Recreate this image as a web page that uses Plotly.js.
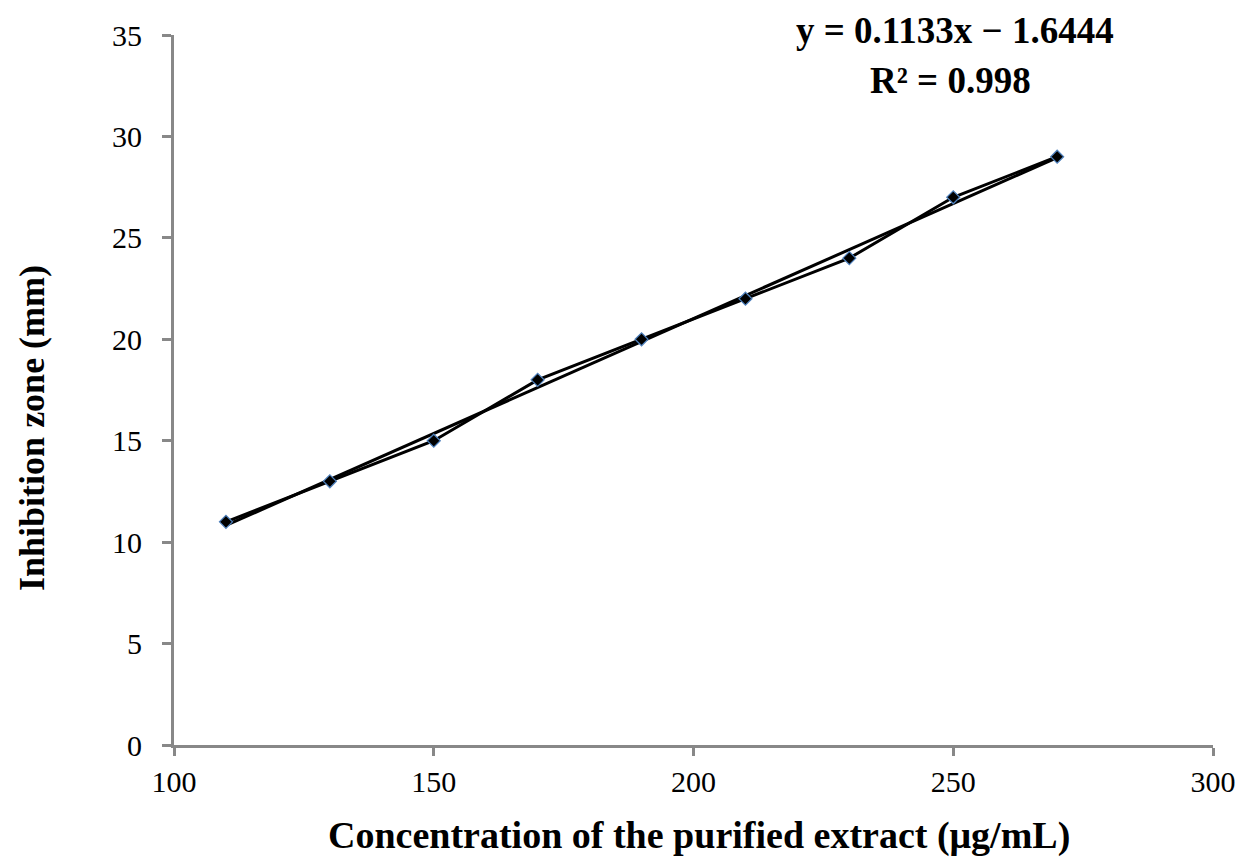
<!DOCTYPE html>
<html>
<head>
<meta charset="utf-8">
<script src="https://cdn.plot.ly/plotly-3.0.1.min.js"></script>
<style>html,body{margin:0;padding:0;background:#fff;}#chart{width:1240px;height:860px;}</style>
</head>
<body>
<div id="chart"></div>
<script>
const concentration = [110, 130, 150, 170, 190, 210, 230, 250, 270];
const inhibitionZone = [11, 13, 15, 18, 20, 22, 24, 27, 29];
const xTickValues = [100, 150, 200, 250, 300];
const yTickValues = [0, 5, 10, 15, 20, 25, 30, 35];

// linear regression (trendline)
const n = concentration.length;
const mx = concentration.reduce((a, b) => a + b, 0) / n;
const my = inhibitionZone.reduce((a, b) => a + b, 0) / n;
let sxy = 0, sxx = 0, syy = 0;
for (let i = 0; i < n; i++) {
  sxy += (concentration[i] - mx) * (inhibitionZone[i] - my);
  sxx += (concentration[i] - mx) ** 2;
  syy += (inhibitionZone[i] - my) ** 2;
}
const slope = sxy / sxx;
const intercept = my - slope * mx;
const r2 = (sxy * sxy) / (sxx * syy);
const xMin = Math.min(...concentration), xMax = Math.max(...concentration);
const trendX = [xMin, xMax];
const trendY = trendX.map(x => slope * x + intercept);
const eqText = 'y = ' + slope.toFixed(4) + 'x ' + (intercept < 0 ? '\u2212 ' : '+ ') + Math.abs(intercept).toFixed(4);
const r2Text = 'R\u00B2 = ' + r2.toFixed(3);

const serif = 'Liberation Serif';

const traces = [
  {
    x: trendX, y: trendY, mode: 'lines', type: 'scatter',
    line: {color: '#000', width: 3}, hoverinfo: 'skip', showlegend: false
  },
  {
    x: concentration, y: inhibitionZone, mode: 'lines+markers', type: 'scatter',
    line: {color: '#000', width: 3},
    marker: {symbol: 'diamond', size: 10, color: '#000', line: {color: '#4f81bd', width: 1.2}},
    showlegend: false
  }
];

const layout = {
  width: 1240, height: 860,
  margin: {l: 174, r: 27, t: 35, b: 115},
  paper_bgcolor: '#fff', plot_bgcolor: '#fff',
  font: {family: serif, color: '#000'},
  xaxis: {
    range: [100, 300], tickmode: 'array', tickvals: xTickValues, ticktext: xTickValues.map(String),
    showgrid: false, zeroline: false,
    showline: true, linecolor: '#888', linewidth: 3,
    ticks: 'outside', ticklen: 8, tickwidth: 3, tickcolor: '#888',
    tickfont: {family: serif, size: 30, color: '#000'}
  },
  yaxis: {
    range: [0, 35], tickmode: 'array', tickvals: yTickValues, ticktext: yTickValues.map(String),
    showgrid: false, zeroline: false,
    showline: true, linecolor: '#888', linewidth: 3,
    ticks: 'outside', ticklen: 9, tickwidth: 3, tickcolor: '#888',
    ticklabelstandoff: 14,
    tickfont: {family: serif, size: 30, color: '#000'}
  },
  annotations: [
    {text: '<b>Inhibition zone (mm)</b>', xref: 'paper', yref: 'paper', x: -0.1367, y: 0.4465,
     textangle: -90, showarrow: false, font: {family: serif, size: 36, color: '#000'}, xanchor: 'center', yanchor: 'middle'},
    {text: '<b>Concentration of the purified extract (\u03BCg/mL)</b>', xref: 'paper', yref: 'paper', x: 0.5053, y: -0.128,
     showarrow: false, font: {family: serif, size: 38, color: '#000'}, xanchor: 'center', yanchor: 'middle'},
    {text: '<b>' + eqText + '</b>', xref: 'paper', yref: 'paper', x: 0.7517, y: 1.007,
     showarrow: false, font: {family: serif, size: 37, color: '#000'}, xanchor: 'center', yanchor: 'middle'},
    {text: '<b>' + r2Text + '</b>', xref: 'paper', yref: 'paper', x: 0.7469, y: 0.9366,
     showarrow: false, font: {family: serif, size: 37, color: '#000'}, xanchor: 'center', yanchor: 'middle'}
  ]
};

Plotly.newPlot('chart', traces, layout, {displayModeBar: false, staticPlot: true});
</script>
</body>
</html>
